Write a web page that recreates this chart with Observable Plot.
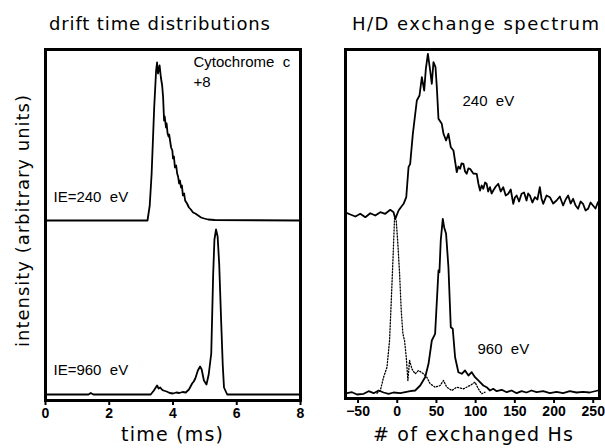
<!DOCTYPE html>
<html>
<head>
<meta charset="utf-8">
<script src="https://cdn.jsdelivr.net/npm/d3@7"></script>
<script src="https://cdn.jsdelivr.net/npm/@observablehq/plot@0.6"></script>
<style>
  body { margin: 0; background: #fff; }
  #chart { position: relative; width: 605px; height: 448px; overflow: hidden; }
  #chart > div.panel { position: absolute; top: 0; }
  #overlay { position: absolute; left: 0; top: 0; pointer-events: none; }
  svg text { white-space: pre; }
  .panel g[aria-label="x-axis tick label"] { font-weight: bold !important; font-size: 14px !important; }
</style>
</head>
<body>
<div id="chart"></div>
<script>
// ---------------- data ----------------
// left panel: drift time distributions (time in ms, intensity in arbitrary units above trace baseline)
const driftTicks = [0, 2, 4, 6, 8];
const drift240Time = [0, 3.2, 3.27, 3.33, 3.41, 3.47, 3.5, 3.53, 3.56, 3.58, 3.62, 3.66, 3.69, 3.72, 3.74, 3.78, 3.8, 3.83, 3.86, 3.88, 3.94, 3.98, 4.0, 4.03, 4.06, 4.1, 4.13, 4.16, 4.19, 4.22, 4.25, 4.28, 4.31, 4.35, 4.38, 4.44, 4.5, 4.56, 4.63, 4.7, 4.79, 4.88, 4.98, 5.1, 5.3, 8];
const drift240Int  = [0, 0, 15, 47, 113, 150, 158, 147, 152, 155, 143, 135, 123, 100, 104, 93, 97, 87, 84, 86, 73, 70, 62, 64, 53, 55, 47, 44, 37, 40, 33, 35, 25, 27, 20, 17, 13, 11, 8, 7, 5, 3, 2, 1, 0.5, 0];
const drift960Time = [0, 1.35, 1.42, 1.5, 3.3, 3.4, 3.5, 3.55, 3.6, 3.65, 3.7, 3.8, 3.9, 4.0, 4.1, 4.2, 4.3, 4.4, 4.5, 4.55, 4.6, 4.65, 4.7, 4.78, 4.85, 4.9, 4.97, 5.05, 5.12, 5.2, 5.26, 5.3, 5.35, 5.4, 5.45, 5.51, 5.56, 5.6, 5.7, 8];
const drift960Int  = [0, 0, 1.5, 0, 0, 4, 9, 6, 7, 5, 4, 3, 1.5, 1, 2, 1.5, 2.5, 2, 5, 8, 11, 13, 16, 24, 28, 25, 14, 10, 20, 41, 120, 155, 165, 158, 130, 74, 30, 7, 0, 0];

// right panel: H/D exchange spectrum (# of exchanged Hs, intensity in arbitrary units)
const hdTicks = [-50, 0, 50, 100, 150, 200, 250];
const hd240X = [-64, -59.8, -53.4, -47.1, -40.7, -34.4, -28, -21.6, -15.3, -8.9, -4.7, -2.5, 1.7, 4.7, 8.1, 11.5, 14.4, 16.5, 19.9, 25, 28.4, 31.4, 34.4, 36.5, 39.1, 42, 44.1, 46.2, 48.8, 50.5, 52.6, 56.8, 59, 62.3, 65.3, 68.3, 71.7, 75.9, 78, 80.2, 82, 84.4, 86.5, 88.6, 90.7, 92.9, 97, 101.4, 103.5, 105.6, 107.7, 109.8, 112, 114, 116, 118.3, 120.4, 122.5, 125.7, 128.9, 132, 135.2, 138.4, 141.6, 144.8, 148, 150.1, 152.3, 155.4, 158.6, 161.8, 164.9, 167, 169.2, 172.4, 175.6, 178.8, 181.9, 184, 186.2, 190.4, 194.7, 198.9, 203.2, 207.4, 211.6, 214.8, 218, 221.2, 224.3, 227.5, 230.7, 233.9, 237, 240.2, 243.4, 246.6, 249.7, 252.9, 256];
const hd240Int = [0.3, -1, -3, -0.3, -3.7, 0.3, -2, 1.3, -0.3, 3.7, 1.3, -5.3, 3, 6.3, 9.7, 16.3, 46.3, 49.7, 79.7, 113, 118, 136.3, 123, 144.7, 159.7, 143, 129.7, 151.3, 146.3, 126.3, 94.7, 89.7, 79.7, 73, 79.7, 66.3, 63, 41.3, 47, 44.7, 50, 49.7, 42, 39.7, 45, 44.7, 40, 39.7, 30, 23, 28, 24.7, 31, 29.7, 22, 26.3, 20, 23, 27, 29.7, 22, 26.3, 18, 19.7, 24, 9.7, 16, 18, 12, 19.7, 21, 13, 20, 18, 11, 16.3, 14, 26.3, 15, 9.7, 18, 16.3, 10, 13, 17, 8, 14, 18, 10, 14.7, 8, 4.7, 12, 9.7, 3, 4.7, 11, 8, 5, 11.3];
const hd960X = [-64, -57.7, -51.3, -42.8, -36.5, -30.1, -23.7, -17.4, -11, -4.7, 3.8, 10.2, 16.5, 22.9, 29.3, 35.6, 39.9, 44.1, 48.3, 52.6, 53.8, 55.5, 58.1, 59.8, 62.3, 65.3, 68.3, 70.8, 73.8, 78, 82.3, 86.5, 90.8, 95, 99.2, 105.6, 109.8, 114, 118.3, 122.5, 126.8, 133.2, 139.6, 145.9, 152.3, 158.6, 164.9, 171.2, 177.7, 186.2, 194.7, 203.2, 211.6, 220.1, 228.6, 237, 245.5, 256];
const hd960Int = [5.3, 6.3, 4, 4.7, 7.3, 5.3, 8, 6, 4.7, 6, 5.3, 6.3, 7.3, 8, 13, 21.3, 34.7, 58, 64.7, 128, 126.3, 158, 179.7, 171.3, 164.7, 131.3, 71.3, 69.7, 41.3, 26.3, 24.7, 28, 23, 26.3, 21.3, 16.3, 13, 11.3, 8, 9.7, 7.3, 8.7, 6.3, 8, 5.3, 7.3, 6, 8, 6.3, 7.3, 5.3, 6.7, 5.3, 7.3, 6, 6.7, 6, 8];
const hdDotX = [-25.9, -21.6, -17.4, -13.1, -9.8, -7.6, -5.5, -3.4, -1.3, 0.8, 3, 5.1, 7.2, 9.3, 11.5, 13.6, 15.7, 18.7, 22.9, 27.1, 33.5, 37.7, 42, 48.3, 54.7, 59, 63.2, 69.6, 75.9, 84.4, 92.9, 99.2, 103.4, 107.7, 112];
const hdDotInt = [5.3, 8, 21.3, 31.3, 58, 98, 138, 181.3, 178, 154.7, 124.7, 88, 64.7, 58, 41.3, 18, 38, 29.7, 24.7, 28, 24.7, 21.3, 14.7, 11.3, 13, 18, 11.3, 8, 11.3, 9.7, 13, 16.3, 9.7, 4.7, 6.3];

// ---------------- drawing ----------------
const pts = (xs, ys, off = 0) => xs.map((x, i) => ({x, y: ys[i] + off}));
const plotStyle = {fontFamily: "'Liberation Sans', Arial, sans-serif", fontSize: "14px", background: "transparent", overflow: "visible"};
const axisFont = {fontSize: 14, fontWeight: "bold"};
const noteFont = {fontFamily: "'Liberation Sans', Arial, sans-serif", fontSize: 15, fontWeight: "normal"};

const left = Plot.plot({
  width: 320, height: 448,
  marginLeft: 45, marginRight: 20, marginTop: 49, marginBottom: 48,
  style: plotStyle,
  x: {domain: [0, 8]},
  y: {domain: [0, 351], axis: null},
  marks: [
    Plot.axisX({ticks: driftTicks, tickSize: 5, strokeWidth: 2, tickPadding: 3, label: null, tickFormat: d3.format("d"), ...axisFont}),
    Plot.line(pts(drift240Time, drift240Int, 180), {x: "x", y: "y", stroke: "black", strokeWidth: 1.8}),
    Plot.line(pts(drift960Time, drift960Int, 6), {x: "x", y: "y", stroke: "black", strokeWidth: 1.8}),
    Plot.frame({stroke: "black", strokeWidth: 3}),
    Plot.text(["Cytochrome  c"], {frameAnchor: "top-left", textAnchor: "start", lineAnchor: "top", dx: 148, dy: 7, ...noteFont}),
    Plot.text(["+8"], {frameAnchor: "top-left", textAnchor: "start", lineAnchor: "top", dx: 148, dy: 27, ...noteFont}),
    Plot.text(["IE=240  eV"], {frameAnchor: "top-left", textAnchor: "start", lineAnchor: "top", dx: 8, dy: 142, ...noteFont}),
    Plot.text(["IE=960  eV"], {frameAnchor: "top-left", textAnchor: "start", lineAnchor: "top", dx: 8, dy: 315, ...noteFont})
  ]
});

const right = Plot.plot({
  width: 285, height: 448,
  marginLeft: 25, marginRight: 6, marginTop: 49, marginBottom: 50,
  style: plotStyle,
  x: {domain: [-66, 258]},
  y: {domain: [0, 349], axis: null},
  marks: [
    Plot.axisX({ticks: hdTicks, tickSize: 5, strokeWidth: 2, tickPadding: 3, label: null, ...axisFont}),
    Plot.line(pts(hdDotX, hdDotInt), {x: "x", y: "y", stroke: "black", strokeWidth: 1.3, strokeDasharray: "1.2,1.8"}),
    Plot.line(pts(hd240X, hd240Int, 185), {x: "x", y: "y", stroke: "black", strokeWidth: 1.8}),
    Plot.line(pts(hd960X, hd960Int), {x: "x", y: "y", stroke: "black", strokeWidth: 1.8}),
    Plot.frame({stroke: "black", strokeWidth: 3}),
    Plot.text(["240  eV"], {frameAnchor: "top-left", textAnchor: "start", lineAnchor: "top", dx: 117, dy: 46, ...noteFont}),
    Plot.text(["960  eV"], {frameAnchor: "top-left", textAnchor: "start", lineAnchor: "top", dx: 132, dy: 294, ...noteFont})
  ]
});

const chart = document.getElementById("chart");
const lp = document.createElement("div"); lp.className = "panel"; lp.style.left = "0px"; lp.appendChild(left);
const rp = document.createElement("div"); rp.className = "panel"; rp.style.left = "320px"; rp.appendChild(right);
chart.appendChild(lp); chart.appendChild(rp);

// titles and axis labels
const ov = d3.select(chart).append("svg").attr("id", "overlay").attr("width", 605).attr("height", 448)
  .style("font-family", "'DejaVu Sans', sans-serif").style("fill", "black");
const labels = [
  {t: "drift time distributions", x: 49, y: 30, len: 221, size: 18},
  {t: "H/D exchange spectrum", x: 352, y: 30, len: 247, size: 18},
  {t: "time (ms)", x: 121, y: 441, len: 102, size: 19},
  {t: "# of exchanged Hs", x: 373, y: 441, len: 200, size: 19}
];
for (const l of labels) {
  ov.append("text").attr("x", l.x).attr("y", l.y).attr("font-size", l.size)
    .attr("textLength", l.len).attr("lengthAdjust", "spacing").text(l.t);
}
ov.append("text").attr("transform", "translate(29,221) rotate(-90)").attr("text-anchor", "middle")
  .attr("font-size", 18).attr("textLength", 252).attr("lengthAdjust", "spacing")
  .text("intensity (arbitrary units)");
</script>
</body>
</html>
